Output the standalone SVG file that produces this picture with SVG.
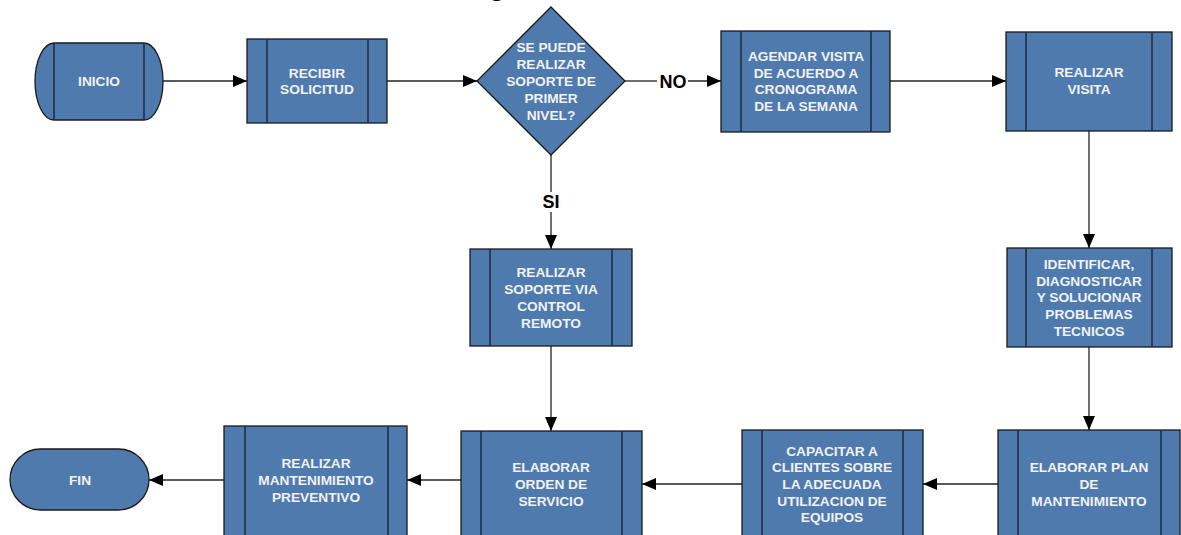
<svg xmlns="http://www.w3.org/2000/svg" width="1181" height="535" viewBox="0 0 1181 535">
  <style>
    .box { fill: #4F7AAE; stroke: #1a1a1a; stroke-width: 1.3; }
    .bar { stroke: #1d2b3c; stroke-width: 1.5; fill: none; }
    .lbl { font-family: "Liberation Sans", Arial, sans-serif; font-weight: bold; font-size: 13.7px; fill: #F2F2F2; text-anchor: middle; }
    .tag { font-family: "Liberation Sans", Arial, sans-serif; font-weight: bold; font-size: 18px; fill: #000; text-anchor: middle; }
    .edge { stroke: #222; stroke-width: 1.3; fill: none; }
    .arrow { marker-end: url(#head); }
  </style>
  <defs>
    <marker id="head" markerUnits="userSpaceOnUse" markerWidth="14" markerHeight="12" refX="14" refY="6" orient="auto">
      <path d="M0,0 L14,6 L0,12 Z" fill="#000"/>
    </marker>
  </defs>

  <rect width="1181" height="535" fill="#fff"/>

  <!-- heading, mostly above the top edge -->
  <text x="489" y="-4" font-family="Liberation Sans, Arial, sans-serif" font-weight="bold" font-size="26" fill="#000">g</text>

  <g id="connectors">
    <path class="edge arrow" d="M163,81 H247"/>
    <path class="edge arrow" d="M387,81 H477"/>
    <path class="edge" d="M625,81 H657"/>
    <path class="edge arrow" d="M688,81 H721"/>
    <text class="tag" x="673" y="88">NO</text>
    <path class="edge arrow" d="M890,81 H1006"/>
    <path class="edge arrow" d="M1089,131 V248"/>
    <path class="edge" d="M551,155 V192"/>
    <path class="edge arrow" d="M551,212 V249"/>
    <text class="tag" x="551" y="208">SI</text>
    <path class="edge arrow" d="M551,346 V431"/>
    <path class="edge arrow" d="M1089,347 V430"/>
    <path class="edge arrow" d="M998,484 H923"/>
    <path class="edge arrow" d="M742,484 H642"/>
    <path class="edge arrow" d="M461,480 H407"/>
    <path class="edge arrow" d="M224,480 H149"/>
  </g>

  <g id="inicio">
    <path class="box" d="M54,43 H144 A19,38.5 0 0 1 144,120 H54 A19,38.5 0 0 1 54,43 Z"/>
    <path class="bar" d="M54,43 V120 M144,43 V120"/>
    <text class="lbl" x="99" y="86">INICIO</text>
  </g>

  <g id="recibir">
    <rect class="box" x="247" y="39" width="140" height="84"/>
    <path class="bar" d="M267,39 V123 M368,39 V123"/>
    <text class="lbl" x="317" y="78">RECIBIR</text>
    <text class="lbl" x="317" y="94">SOLICITUD</text>
  </g>

  <g id="decision">
    <path class="box" d="M551,7 L625,81 L551,155 L477,81 Z"/>
    <text class="lbl" x="551" y="52">SE PUEDE</text>
    <text class="lbl" x="551" y="69">REALIZAR</text>
    <text class="lbl" x="551" y="86">SOPORTE DE</text>
    <text class="lbl" x="551" y="103">PRIMER</text>
    <text class="lbl" x="551" y="120">NIVEL?</text>
  </g>

  <g id="agendar">
    <rect class="box" x="721" y="31" width="169" height="101"/>
    <path class="bar" d="M741,31 V132 M871,31 V132"/>
    <text class="lbl" x="806" y="61">AGENDAR VISITA</text>
    <text class="lbl" x="806" y="78">DE ACUERDO A</text>
    <text class="lbl" x="806" y="94">CRONOGRAMA</text>
    <text class="lbl" x="806" y="111">DE LA SEMANA</text>
  </g>

  <g id="visita">
    <rect class="box" x="1006" y="32" width="166" height="99"/>
    <path class="bar" d="M1026,32 V131 M1152,32 V131"/>
    <text class="lbl" x="1089" y="77">REALIZAR</text>
    <text class="lbl" x="1089" y="94">VISITA</text>
  </g>

  <g id="soporte">
    <rect class="box" x="470" y="249" width="162" height="97"/>
    <path class="bar" d="M490,249 V346 M612,249 V346"/>
    <text class="lbl" x="551" y="277">REALIZAR</text>
    <text class="lbl" x="551" y="294">SOPORTE VIA</text>
    <text class="lbl" x="551" y="311">CONTROL</text>
    <text class="lbl" x="551" y="328">REMOTO</text>
  </g>

  <g id="identificar">
    <rect class="box" x="1007" y="248" width="165" height="99"/>
    <path class="bar" d="M1026,248 V347 M1152,248 V347"/>
    <text class="lbl" x="1089" y="269">IDENTIFICAR,</text>
    <text class="lbl" x="1089" y="286">DIAGNOSTICAR</text>
    <text class="lbl" x="1089" y="302">Y SOLUCIONAR</text>
    <text class="lbl" x="1089" y="319">PROBLEMAS</text>
    <text class="lbl" x="1089" y="336">TECNICOS</text>
  </g>

  <g id="plan">
    <rect class="box" x="998" y="430" width="182" height="110"/>
    <path class="bar" d="M1018,430 V540 M1161,430 V540"/>
    <text class="lbl" x="1089" y="472">ELABORAR PLAN</text>
    <text class="lbl" x="1089" y="489">DE</text>
    <text class="lbl" x="1089" y="506">MANTENIMIENTO</text>
  </g>

  <g id="capacitar">
    <rect class="box" x="742" y="430" width="181" height="110"/>
    <path class="bar" d="M762,430 V540 M903,430 V540"/>
    <text class="lbl" x="832" y="456">CAPACITAR A</text>
    <text class="lbl" x="832" y="472">CLIENTES SOBRE</text>
    <text class="lbl" x="832" y="489">LA ADECUADA</text>
    <text class="lbl" x="832" y="506">UTILIZACION DE</text>
    <text class="lbl" x="832" y="522">EQUIPOS</text>
  </g>

  <g id="orden">
    <rect class="box" x="461" y="431" width="181" height="110"/>
    <path class="bar" d="M481,431 V541 M622,431 V541"/>
    <text class="lbl" x="551" y="472">ELABORAR</text>
    <text class="lbl" x="551" y="489">ORDEN DE</text>
    <text class="lbl" x="551" y="506">SERVICIO</text>
  </g>

  <g id="mantenimiento">
    <rect class="box" x="224" y="426" width="183" height="114"/>
    <path class="bar" d="M245,426 V540 M388,426 V540"/>
    <text class="lbl" x="316" y="468">REALIZAR</text>
    <text class="lbl" x="316" y="485">MANTENIMIENTO</text>
    <text class="lbl" x="316" y="502">PREVENTIVO</text>
  </g>

  <g id="fin">
    <rect class="box" x="10" y="449" width="139" height="61" rx="30.5" ry="30.5"/>
    <text class="lbl" x="80" y="485">FIN</text>
  </g>
</svg>
